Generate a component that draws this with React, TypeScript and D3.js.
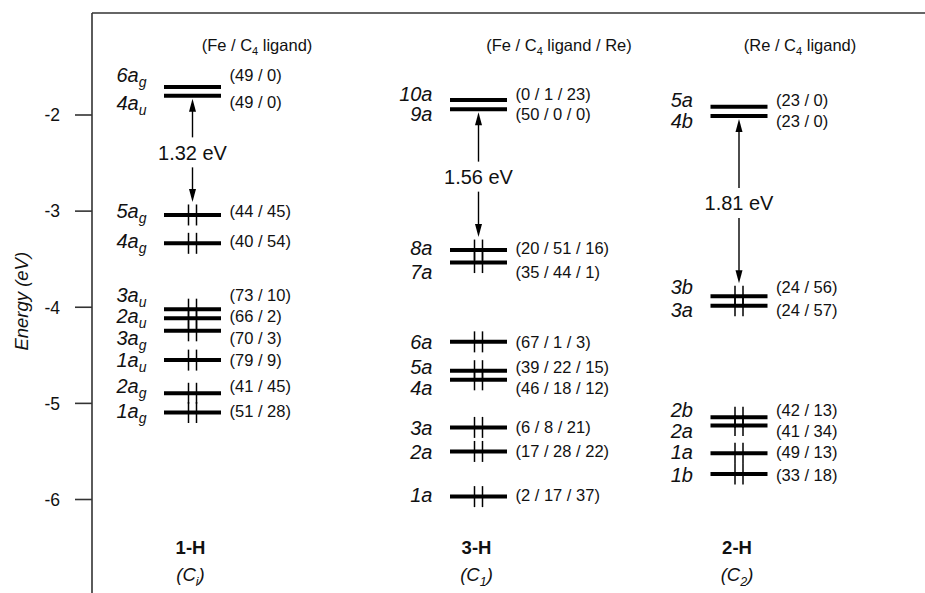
import React from "react";
import * as d3 from "d3";

// compounds, left to right
const compounds = ["1-H", "3-H", "2-H"];
const pointGroups = ["i", "1", "2"];
const headerParts = [
  ["(Fe / C", " ligand)"],
  ["(Fe / C", " ligand / Re)"],
  ["(Re / C", " ligand)"],
];
const gapLabels = ["1.32 eV", "1.56 eV", "1.81 eV"];
const tickValues = [-2, -3, -4, -5, -6];

// orbital levels: energy (eV), label anchor energy, occupied, composition
const levels1H = [
  { name: "6a", sub: "g", e: -1.71, labelE: -1.58, occ: false, comp: "(49 / 0)" },
  { name: "4a", sub: "u", e: -1.8, labelE: -1.87, occ: false, comp: "(49 / 0)" },
  { name: "5a", sub: "g", e: -3.04, labelE: -3.0, occ: true, comp: "(44 / 45)" },
  { name: "4a", sub: "g", e: -3.335, labelE: -3.31, occ: true, comp: "(40 / 54)" },
  { name: "3a", sub: "u", e: -4.02, labelE: -3.87, occ: true, comp: "(73 / 10)" },
  { name: "2a", sub: "u", e: -4.115, labelE: -4.09, occ: true, comp: "(66 / 2)" },
  { name: "3a", sub: "g", e: -4.245, labelE: -4.32, occ: true, comp: "(70 / 3)" },
  { name: "1a", sub: "u", e: -4.55, labelE: -4.55, occ: true, comp: "(79 / 9)" },
  { name: "2a", sub: "g", e: -4.895, labelE: -4.82, occ: true, comp: "(41 / 45)" },
  { name: "1a", sub: "g", e: -5.095, labelE: -5.08, occ: true, comp: "(51 / 28)" },
];
const levels3H = [
  { name: "10a", sub: "", e: -1.845, labelE: -1.78, occ: false, comp: "(0 / 1 / 23)" },
  { name: "9a", sub: "", e: -1.94, labelE: -1.99, occ: false, comp: "(50 / 0 / 0)" },
  { name: "8a", sub: "", e: -3.405, labelE: -3.38, occ: true, comp: "(20 / 51 / 16)" },
  { name: "7a", sub: "", e: -3.535, labelE: -3.63, occ: true, comp: "(35 / 44 / 1)" },
  { name: "6a", sub: "", e: -4.36, labelE: -4.36, occ: true, comp: "(67 / 1 / 3)" },
  { name: "5a", sub: "", e: -4.66, labelE: -4.62, occ: true, comp: "(39 / 22 / 15)" },
  { name: "4a", sub: "", e: -4.755, labelE: -4.84, occ: true, comp: "(46 / 18 / 12)" },
  { name: "3a", sub: "", e: -5.25, labelE: -5.25, occ: true, comp: "(6 / 8 / 21)" },
  { name: "2a", sub: "", e: -5.5, labelE: -5.5, occ: true, comp: "(17 / 28 / 22)" },
  { name: "1a", sub: "", e: -5.97, labelE: -5.955, occ: true, comp: "(2 / 17 / 37)" },
];
const levels2H = [
  { name: "5a", sub: "", e: -1.915, labelE: -1.845, occ: false, comp: "(23 / 0)" },
  { name: "4b", sub: "", e: -2.01, labelE: -2.06, occ: false, comp: "(23 / 0)" },
  { name: "3b", sub: "", e: -3.885, labelE: -3.79, occ: true, comp: "(24 / 56)" },
  { name: "3a", sub: "", e: -3.985, labelE: -4.03, occ: true, comp: "(24 / 57)" },
  { name: "2b", sub: "", e: -5.145, labelE: -5.07, occ: true, comp: "(42 / 13)" },
  { name: "2a", sub: "", e: -5.23, labelE: -5.29, occ: true, comp: "(41 / 34)" },
  { name: "1a", sub: "", e: -5.52, labelE: -5.505, occ: true, comp: "(49 / 13)" },
  { name: "1b", sub: "", e: -5.735, labelE: -5.745, occ: true, comp: "(33 / 18)" },
];
const allLevels = [levels1H, levels3H, levels2H];

const W = 925;
const H = 593;
const FONT = "'Liberation Sans', Arial, Helvetica, sans-serif";
const INK = "#111";

const App = () => {
  const y = d3.scaleLinear().domain([-2, -6]).range([115, 499.5]);
  const x = d3.scaleOrdinal<string, number>().domain(compounds).range([192.5, 478.5, 739]);
  const headerX = d3.scaleOrdinal<string, number>().domain(compounds).range([257, 559, 800]);
  const axisX = 92;
  const half = 28.5;

  const arrowHead = (cx: number, tip: number, dir: number) =>
    d3.line()([
      [cx, tip],
      [cx - 3.5, tip + dir * 13],
      [cx + 3.5, tip + dir * 13],
    ]) + "Z";

  return (
    <svg
      width={W}
      height={H}
      style={{ position: "absolute", left: 0, top: 0, background: "#fff" }}
      fontFamily={FONT}
    >
      {/* frame / axis */}
      <line x1={axisX} x2={axisX} y1={13} y2={H} stroke="#333" strokeWidth={1.6} />
      <line x1={axisX} x2={W} y1={13} y2={13} stroke="#333" strokeWidth={1.6} />
      {tickValues.map((t) => (
        <g key={t}>
          <line x1={axisX - 17} x2={axisX} y1={y(t)} y2={y(t)} stroke="#333" strokeWidth={1.6} />
          <text x={60} y={y(t)} dy="0.36em" textAnchor="end" fontSize={17.5} fill={INK}>
            {t}
          </text>
        </g>
      ))}
      <text
        transform={`translate(26,${y(-4) - 6}) rotate(-90)`}
        textAnchor="middle"
        dy="0.1em"
        fontSize={18.5}
        fontStyle="italic"
        fill={INK}
      >
        Energy (eV)
      </text>

      {compounds.map((c, ci) => {
        const cx = x(c);
        const levels = allLevels[ci];
        const lumo = levels.filter((l) => !l.occ).slice(-1)[0];
        const homo = levels.filter((l) => l.occ)[0];
        const top = y(lumo.e) + 3;
        const bot = y(homo.e) - 13;
        const mid = (top + bot) / 2 + 2;
        return (
          <g key={c}>
            {/* header */}
            <text x={headerX(c)} y={45} dy="0.35em" textAnchor="middle" fontSize={16.5} fill={INK}>
              <tspan>{headerParts[ci][0]}</tspan>
              <tspan fontSize={11} dy={4}>4</tspan>
              <tspan dy={-4}>{headerParts[ci][1]}</tspan>
            </text>

            {levels.map((l, li) => (
              <g key={li}>
                <line
                  x1={cx - half}
                  x2={cx + half}
                  y1={y(l.e)}
                  y2={y(l.e)}
                  stroke="#000"
                  strokeWidth={4}
                />
                {l.occ &&
                  [-4, 4].map((dx) => (
                    <line
                      key={dx}
                      x1={cx + dx}
                      x2={cx + dx}
                      y1={y(l.e) - 10.5}
                      y2={y(l.e) + 10.5}
                      stroke="#000"
                      strokeWidth={1.5}
                    />
                  ))}
                <text
                  x={cx - 46}
                  y={y(l.labelE)}
                  dy="0.36em"
                  textAnchor="end"
                  fontSize={20}
                  fontStyle="italic"
                  fill={INK}
                >
                  <tspan>{l.name}</tspan>
                  {l.sub && (
                    <tspan fontSize={14} dy={5}>
                      {l.sub}
                    </tspan>
                  )}
                </text>
                <text x={cx + 37} y={y(l.labelE)} dy="0.36em" fontSize={16.5} fill={INK}>
                  {l.comp}
                </text>
              </g>
            ))}

            {/* HOMO-LUMO gap */}
            <line x1={cx} x2={cx} y1={top + 10} y2={mid - 15} stroke="#000" strokeWidth={1.4} />
            <line x1={cx} x2={cx} y1={mid + 15} y2={bot - 10} stroke="#000" strokeWidth={1.4} />
            <path d={arrowHead(cx, top, 1)} fill="#000" />
            <path d={arrowHead(cx, bot, -1)} fill="#000" />
            <text x={cx} y={mid} dy="0.36em" textAnchor="middle" fontSize={20} fill={INK}>
              {gapLabels[ci]}
            </text>

            {/* compound and point group */}
            <text x={cx - 2} y={547} dy="0.36em" textAnchor="middle" fontSize={18.5} fontWeight="bold" fill={INK}>
              {c}
            </text>
            <text x={cx - 2} y={574} dy="0.36em" textAnchor="middle" fontSize={18.5} fontStyle="italic" fill={INK}>
              <tspan>(C</tspan>
              <tspan fontSize={12.5} dy={5}>{pointGroups[ci]}</tspan>
              <tspan dy={-5}>)</tspan>
            </text>
          </g>
        );
      })}
    </svg>
  );
};

export default App;
